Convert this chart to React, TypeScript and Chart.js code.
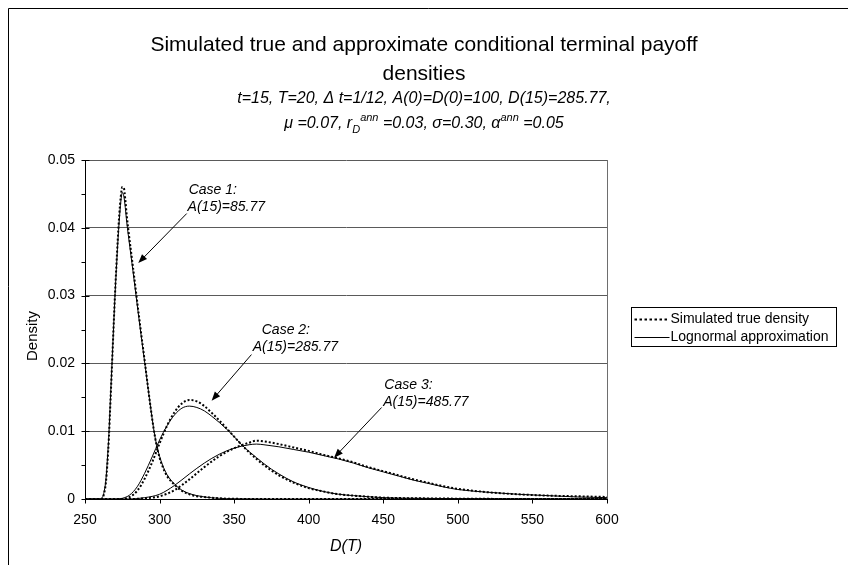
import React, { useEffect, useRef } from 'react';
import { Chart, registerables } from 'chart.js';

Chart.register(...registerables);

// ---------------- data ----------------
const xTickValues = [250, 300, 350, 400, 450, 500, 550, 600];
const yTickValues = [0, 0.01, 0.02, 0.03, 0.04, 0.05];

const case1X = [250, 255, 258, 260, 261, 262, 263, 264, 265, 266, 267, 268, 269, 270, 271, 272, 273, 274, 275, 276, 277, 278, 279, 280, 282, 284, 286, 288, 290, 292, 294, 296, 298, 300, 302, 305, 310, 315, 320, 325, 330, 340, 350, 375, 400, 450, 500, 600];
const case1Sim = [0, 0, 0, 0, 0.00003, 0.0002, 0.001, 0.0024, 0.0052, 0.009, 0.014, 0.0192, 0.0245, 0.0296, 0.0342, 0.0384, 0.042, 0.0446, 0.046, 0.0459, 0.0442, 0.0418, 0.0398, 0.038, 0.0345, 0.0309, 0.0273, 0.0238, 0.0204, 0.0169, 0.0135, 0.0104, 0.0079, 0.0061, 0.0048, 0.0034, 0.0021, 0.0012, 0.0007, 0.0004, 0.0003, 0.0001, 0.00003, 0, 0, 0, 0, 0];
const case1Logn = [0, 0, 0, 0.00002, 0.00008, 0.0004, 0.0013, 0.0028, 0.0058, 0.0095, 0.0145, 0.0195, 0.0245, 0.0295, 0.0338, 0.0378, 0.0412, 0.0438, 0.0452, 0.0447, 0.043, 0.0408, 0.039, 0.0373, 0.0339, 0.0304, 0.0269, 0.0235, 0.0202, 0.0168, 0.0135, 0.0104, 0.008, 0.0063, 0.005, 0.0036, 0.0022, 0.0013, 0.0008, 0.0005, 0.0003, 0.0001, 0.00004, 0, 0, 0, 0, 0];

const case2X = [250, 270, 275, 280, 285, 290, 295, 300, 305, 310, 315, 320, 325, 330, 335, 340, 345, 350, 355, 360, 365, 370, 375, 380, 390, 400, 410, 420, 430, 450, 475, 500, 550, 600];
const case2Sim = [0, 0, 0, 0.0003, 0.0012, 0.003, 0.0054, 0.0082, 0.0108, 0.0128, 0.0141, 0.0146, 0.0144, 0.0137, 0.0127, 0.0116, 0.0104, 0.0092, 0.008, 0.0069, 0.0059, 0.005, 0.0042, 0.0035, 0.0024, 0.0016, 0.0011, 0.0007, 0.0005, 0.0002, 0.0001, 0.00005, 0, 0];
const case2Logn = [0, 0, 0.0001, 0.0006, 0.0018, 0.0038, 0.0062, 0.0087, 0.0108, 0.0124, 0.0134, 0.0137, 0.0135, 0.013, 0.0122, 0.0113, 0.0103, 0.0092, 0.008, 0.007, 0.0061, 0.0052, 0.0044, 0.0037, 0.0025, 0.0017, 0.0011, 0.0007, 0.0005, 0.0002, 0.0001, 0.00005, 0, 0];

const case3X = [250, 280, 290, 300, 310, 320, 330, 340, 350, 360, 365, 370, 380, 390, 400, 410, 420, 430, 440, 450, 460, 470, 480, 490, 500, 520, 540, 560, 580, 600];
const case3Sim = [0, 0, 0.0001, 0.0004, 0.0013, 0.0029, 0.0047, 0.0063, 0.0075, 0.0083, 0.0086, 0.0085, 0.0081, 0.0076, 0.0071, 0.0065, 0.006, 0.0054, 0.0047, 0.0041, 0.0035, 0.0029, 0.0024, 0.0019, 0.0015, 0.001, 0.0007, 0.0005, 0.0004, 0.0003];
const case3Logn = [0, 0, 0.0002, 0.0007, 0.002, 0.0037, 0.0053, 0.0066, 0.0075, 0.008, 0.0081, 0.008, 0.0077, 0.0073, 0.0069, 0.0064, 0.0059, 0.0053, 0.0046, 0.004, 0.0034, 0.0028, 0.0023, 0.0018, 0.0014, 0.001, 0.0007, 0.0005, 0.0003, 0.0002];

const seriesNames = ['Simulated true density', 'Lognormal approximation'];
const titleLines = ['Simulated true and approximate conditional terminal payoff', 'densities'];
const xAxisTitle = 'D(T)';
const yAxisTitle = 'Density';

// subtitle segments: [text, kind]  kind: n = normal, g = greek, sub, sup
const subtitleLine1: [string, string][] = [
  ['t=15, T=20, ', 'n'], ['\u0394', 'g'], [' t=1/12, A(0)=D(0)=100, D(15)=285.77,', 'n'],
];
const subtitleLine2: [string, string][] = [
  ['\u03bc', 'g'], [' =0.07, r', 'n'], ['D', 'sub'], ['ann', 'sup'], [' =0.03, ', 'n'], ['\u03c3', 'g'], ['=0.30, ', 'n'], ['\u03b1', 'g'], ['ann', 'sup'], [' =0.05', 'n'],
];

// annotation texts and their anchor points (data coordinates)
const caseTexts = [
  ['Case 1:', 'A(15)=85.77'],
  ['Case 2:', 'A(15)=285.77'],
  ['Case 3:', 'A(15)=485.77'],
];
const caseTextAnchors = [
  [[319.5, 0.0456], [318.8, 0.0431]],
  [[368.5, 0.0249], [362.5, 0.0224]],
  [[450.7, 0.0168], [450.0, 0.0143]],
];
const caseArrows = [
  [[318.2, 0.0421], [285.7, 0.0348]],
  [[361.6, 0.0213], [334.9, 0.0145]],
  [[448.9, 0.0135], [417.0, 0.0061]],
];

const FONT = '"Liberation Sans", Arial, Helvetica, sans-serif';

function toPts(xs: number[], ys: number[]) {
  return xs.map((x, i) => ({ x, y: ys[i] }));
}

export default function App() {
  const ref = useRef<HTMLCanvasElement | null>(null);

  useEffect(() => {
    document.body.style.margin = '0';
    const canvas = ref.current;
    if (!canvas) return;

    const drawSegments = (ctx: CanvasRenderingContext2D, segs: [string, string][], cx: number, cy: number, size: number) => {
      const fontFor = (k: string) => {
        if (k === 'sub' || k === 'sup') return `italic ${Math.round(size * 0.66)}px ${FONT}`;
        return `italic ${size}px ${FONT}`;
      };
      let total = 0;
      const widths: number[] = [];
      segs.forEach(([t, k]) => {
        ctx.font = fontFor(k);
        const w = ctx.measureText(t).width;
        widths.push(w);
        total += w;
      });
      let x = cx - total / 2;
      ctx.textBaseline = 'alphabetic';
      ctx.textAlign = 'left';
      segs.forEach(([t, k], i) => {
        ctx.font = fontFor(k);
        let dy = 0;
        if (k === 'sub') dy = size * 0.3;
        if (k === 'sup') dy = -size * 0.45;
        ctx.fillText(t, x, cy + dy);
        x += widths[i];
      });
    };

    const decor = {
      id: 'decor',
      afterDraw(chart: any) {
        const { ctx, scales } = chart;
        const xs = scales.x;
        const ys = scales.y;
        const area = chart.chartArea;
        ctx.save();
        ctx.fillStyle = '#000';
        ctx.strokeStyle = '#000';
        ctx.lineWidth = 1;

        // outer chart border (left, top)
        ctx.beginPath();
        ctx.moveTo(8.5, 565);
        ctx.lineTo(8.5, 8.5);
        ctx.lineTo(848, 8.5);
        ctx.stroke();

        // right plot border
        ctx.strokeStyle = '#6e6e6e';
        ctx.beginPath();
        ctx.moveTo(Math.round(area.right) + 0.5, area.top);
        ctx.lineTo(Math.round(area.right) + 0.5, area.bottom);
        ctx.stroke();

        // y ticks: major crossing, minor outside
        ctx.strokeStyle = '#000';
        const ax = Math.round(area.left) + 0.5;
        for (let i = 0; i <= 10; i++) {
          const v = i * 0.005;
          const py = Math.round(ys.getPixelForValue(v)) + 0.5;
          ctx.beginPath();
          if (i % 2 === 0) {
            ctx.moveTo(ax - 4, py);
            ctx.lineTo(ax + 4, py);
          } else {
            ctx.moveTo(ax - 4, py);
            ctx.lineTo(ax, py);
          }
          ctx.stroke();
        }
        // x ticks: outside
        const by = Math.round(area.bottom) + 0.5;
        xTickValues.forEach((v) => {
          const px = Math.round(xs.getPixelForValue(v)) + 0.5;
          ctx.beginPath();
          ctx.moveTo(px, by);
          ctx.lineTo(px, by + 4);
          ctx.stroke();
        });

        // title
        ctx.fillStyle = '#000';
        ctx.textAlign = 'center';
        ctx.textBaseline = 'middle';
        ctx.font = `21px ${FONT}`;
        ctx.fillText(titleLines[0], 424, 45);
        ctx.fillText(titleLines[1], 424, 74);
        drawSegments(ctx, subtitleLine1, 424, 103, 16);
        drawSegments(ctx, subtitleLine2, 424, 128, 16);

        // axis titles
        ctx.textAlign = 'center';
        ctx.textBaseline = 'middle';
        ctx.font = `italic 16px ${FONT}`;
        ctx.fillText(xAxisTitle, (area.left + area.right) / 2, 547);
        ctx.save();
        ctx.translate(33, 336);
        ctx.rotate(-Math.PI / 2);
        ctx.font = `15px ${FONT}`;
        ctx.fillText(yAxisTitle, 0, 0);
        ctx.restore();

        // legend
        const lx = 631.5, ly = 307.5, lw = 205, lh = 39;
        ctx.fillStyle = '#fff';
        ctx.fillRect(lx, ly, lw, lh);
        ctx.strokeStyle = '#000';
        ctx.strokeRect(lx, ly, lw, lh);
        ctx.fillStyle = '#000';
        ctx.font = `14px ${FONT}`;
        ctx.textAlign = 'left';
        ctx.textBaseline = 'middle';
        const rows = [ly + 11, ly + 29];
        rows.forEach((ry, i) => {
          ctx.beginPath();
          ctx.lineWidth = i === 0 ? 2 : 1;
          ctx.setLineDash(i === 0 ? [2.5, 2.5] : []);
          ctx.moveTo(lx + 3, Math.round(ry) + 0.5);
          ctx.lineTo(lx + 38, Math.round(ry) + 0.5);
          ctx.stroke();
          ctx.setLineDash([]);
          ctx.lineWidth = 1;
          ctx.fillText(seriesNames[i], lx + 39, ry + 1);
        });

        // annotations
        ctx.font = `italic 14px ${FONT}`;
        ctx.textAlign = 'left';
        ctx.textBaseline = 'middle';
        caseTexts.forEach((lines, ci) => {
          lines.forEach((t, li) => {
            const [dx, dy] = caseTextAnchors[ci][li];
            ctx.fillText(t, xs.getPixelForValue(dx), ys.getPixelForValue(dy));
          });
          const [[x0, y0], [x1, y1]] = caseArrows[ci];
          const p0x = xs.getPixelForValue(x0), p0y = ys.getPixelForValue(y0);
          const p1x = xs.getPixelForValue(x1), p1y = ys.getPixelForValue(y1);
          const ang = Math.atan2(p1y - p0y, p1x - p0x);
          const hl = 9, hw = 3.5;
          ctx.beginPath();
          ctx.moveTo(p0x, p0y);
          ctx.lineTo(p1x - Math.cos(ang) * hl * 0.8, p1y - Math.sin(ang) * hl * 0.8);
          ctx.stroke();
          ctx.beginPath();
          ctx.moveTo(p1x, p1y);
          ctx.lineTo(p1x - Math.cos(ang) * hl - Math.sin(ang) * hw, p1y - Math.sin(ang) * hl + Math.cos(ang) * hw);
          ctx.lineTo(p1x - Math.cos(ang) * hl + Math.sin(ang) * hw, p1y - Math.sin(ang) * hl - Math.cos(ang) * hw);
          ctx.closePath();
          ctx.fill();
        });
        ctx.restore();
      },
    };

    const simStyle = { borderColor: '#000', borderWidth: 2, borderDash: [2, 2], pointRadius: 0, fill: false, cubicInterpolationMode: 'monotone' as const };
    const lognStyle = { borderColor: '#000', borderWidth: 1, pointRadius: 0, fill: false, cubicInterpolationMode: 'monotone' as const };

    const chart = new Chart(canvas, {
      type: 'line',
      data: {
        datasets: [
          { label: seriesNames[0], data: toPts(case1X, case1Sim), ...simStyle },
          { label: seriesNames[0], data: toPts(case2X, case2Sim), ...simStyle },
          { label: seriesNames[0], data: toPts(case3X, case3Sim), ...simStyle },
          { label: seriesNames[1], data: toPts(case1X, case1Logn), ...lognStyle },
          { label: seriesNames[1], data: toPts(case2X, case2Logn), ...lognStyle },
          { label: seriesNames[1], data: toPts(case3X, case3Logn), ...lognStyle },
        ],
      },
      options: {
        animation: false,
        responsive: false,
        maintainAspectRatio: false,
        devicePixelRatio: 1,
        layout: { padding: { left: 0, top: 160, right: 241, bottom: 26 } },
        plugins: { legend: { display: false }, title: { display: false }, tooltip: { enabled: false } },
        scales: {
          x: {
            type: 'linear',
            min: 250,
            max: 600,
            afterFit: (s: any) => { s.height = 40; },
            afterBuildTicks: (s: any) => { s.ticks = xTickValues.map((v) => ({ value: v })); },
            ticks: { color: '#000', font: { family: FONT, size: 14 }, padding: 13, maxRotation: 0, autoSkip: false },
            grid: { display: false, drawTicks: false },
            border: { display: true, color: '#000', width: 1 },
          },
          y: {
            type: 'linear',
            min: 0,
            max: 0.05,
            afterFit: (s: any) => { s.width = 85; },
            afterBuildTicks: (s: any) => { s.ticks = yTickValues.map((v) => ({ value: v })); },
            ticks: {
              color: '#000',
              font: { family: FONT, size: 14 },
              padding: 10,
              callback: (v: any) => (v === 0 ? '0' : Number(v).toFixed(2)),
            },
            grid: { color: '#5a5a5a', drawTicks: false, lineWidth: 1 },
            border: { display: true, color: '#000', width: 1 },
          },
        },
      },
      plugins: [decor],
    });
    return () => chart.destroy();
  }, []);

  return <canvas ref={ref} width={848} height={565} style={{ display: 'block', width: 848, height: 565 }} />;
}
